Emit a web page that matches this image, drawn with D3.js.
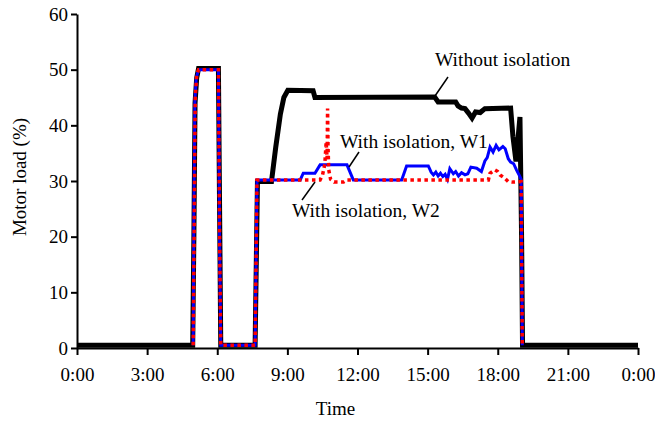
<!DOCTYPE html>
<html>
<head>
<meta charset="utf-8">
<script src="https://cdn.jsdelivr.net/npm/d3@7"></script>
<style>
  body { margin: 0; background: #fff; }
  svg text { font-family: "Liberation Serif", "Times New Roman", serif; fill: #000; }
  .axis path, .axis line { stroke: #000; stroke-width: 2; }
</style>
</head>
<body>
<div id="chart"></div>
<script>
// Time in hours, load in percent
const xTicks = [0, 3, 6, 9, 12, 15, 18, 21, 24];
const xTickLabels = ["0:00", "3:00", "6:00", "9:00", "12:00", "15:00", "18:00", "21:00", "0:00"];
const yTicks = [0, 10, 20, 30, 40, 50, 60];

const withoutIsolation = [
    [0, 0.5], [4.95, 0.5], [5.0, 20], [5.05, 44], [5.12, 48.5], [5.2, 50.2], [6.05, 50.2],
    [6.1, 25], [6.15, 0.5], [7.62, 0.5], [7.72, 29.9], [8.32, 29.9], [8.5, 36], [8.7, 42],
    [8.85, 45], [9.02, 46.3], [10.1, 46.2], [10.18, 45], [15.3, 45.1], [15.45, 44.2],
    [16.2, 44.2], [16.3, 43.5], [16.45, 43.1], [16.6, 43], [16.75, 42.2], [16.9, 41.3],
    [17.05, 42.4], [17.25, 42.3], [17.45, 43.0], [18.55, 43.1], [18.65, 38], [18.78, 33.5],
    [18.95, 41.5], [19.02, 20], [19.06, 0.5], [24, 0.5]
];

const withIsolationW1 = [
    [4.97, 0.5], [5.0, 25], [5.04, 44], [5.1, 48.5], [5.2, 50], [6.05, 50],
    [6.1, 20], [6.15, 0.5], [7.62, 0.5], [7.7, 30.2], [9.55, 30.2], [9.68, 31.4], [10.18, 31.4],
    [10.4, 32.9], [11.55, 32.9], [11.82, 30.2], [13.89, 30.2], [14.1, 32.7], [15.03, 32.7],
    [15.15, 31.6], [15.25, 31.1], [15.35, 31.6], [15.45, 30.9], [15.55, 31.4], [15.65, 30.8],
    [15.75, 31.2], [15.85, 30.3], [15.95, 32.2], [16.1, 31.3], [16.2, 31.7], [16.32, 30.9],
    [16.45, 31.5], [16.6, 31.1], [16.72, 31.3], [16.85, 32.5], [17.1, 32.3], [17.3, 31.7],
    [17.45, 33.6], [17.55, 34.2], [17.67, 36.1], [17.8, 35.2], [17.93, 36.4], [18.05, 35.6],
    [18.22, 36.2], [18.32, 35.8], [18.45, 34], [18.55, 33.4], [18.68, 33.1], [18.8, 32],
    [18.95, 30.8], [19.0, 30.3], [19.05, 0.5]
];

const withIsolationW2 = [
    [4.97, 0.5], [5.02, 25], [5.06, 45], [5.12, 49], [5.2, 50], [6.05, 50],
    [6.1, 20], [6.15, 0.5], [7.62, 0.5], [7.7, 30.2], [10.4, 30.2], [10.5, 31], [10.6, 33],
    [10.66, 37], [10.7, 34], [10.72, 43], [10.74, 36], [10.77, 32], [10.85, 30.3], [11.0, 29.8],
    [11.4, 29.8], [11.55, 30.2], [17.6, 30.2], [17.67, 31.4], [17.88, 32], [18.0, 31.7],
    [18.1, 31.1], [18.3, 30.5], [18.45, 29.9], [18.65, 29.8], [19.0, 29.9], [19.05, 0.5]
];

const width = 655, height = 421;
const margin = { top: 14, right: 17, bottom: 73, left: 77 };

const svg = d3.select("#chart").append("svg")
    .attr("width", width)
    .attr("height", height);

const x = d3.scaleLinear().domain([0, 24]).range([margin.left, width - margin.right]);
const y = d3.scaleLinear().domain([0, 60]).range([height - margin.bottom, margin.top]);

// axes
svg.append("g")
    .attr("class", "axis")
    .attr("transform", `translate(0,${height - margin.bottom})`)
    .call(d3.axisBottom(x).tickValues(xTicks).tickSize(7).tickSizeOuter(0).tickPadding(13)
        .tickFormat((d, i) => xTickLabels[i]));

svg.append("g")
    .attr("class", "axis")
    .attr("transform", `translate(${margin.left},0)`)
    .call(d3.axisLeft(y).tickValues(yTicks).tickSize(6).tickSizeOuter(0).tickPadding(3));

svg.selectAll(".axis text")
    .style("font-size", "19px")
    .style("font-family", "Liberation Serif");

// lines
const line = d3.line().x(d => x(d[0])).y(d => y(d[1]));

svg.append("path").datum(withoutIsolation)
    .attr("d", line).attr("fill", "none")
    .attr("stroke", "#000").attr("stroke-width", 5);

svg.append("path").datum(withIsolationW1)
    .attr("d", line).attr("fill", "none")
    .attr("stroke", "#0000ff").attr("stroke-width", 3);

svg.append("path").datum(withIsolationW2)
    .attr("d", line).attr("fill", "none")
    .attr("stroke", "#ff0000").attr("stroke-width", 3.5)
    .attr("stroke-dasharray", "3.5,3.5");

// annotations
const notes = [
    { text: "Without isolation", tx: 435, ty: 66, l: [448, 77, 435, 96] },
    { text: "With isolation, W1", tx: 340, ty: 148, l: [359, 152, 349, 167] },
    { text: "With isolation, W2", tx: 292, ty: 217, l: [302, 200, 315, 182] }
];
notes.forEach(n => {
    svg.append("line")
        .attr("x1", n.l[0]).attr("y1", n.l[1])
        .attr("x2", n.l[2]).attr("y2", n.l[3])
        .attr("stroke", "#000").attr("stroke-width", 1.5);
    svg.append("text")
        .attr("x", n.tx).attr("y", n.ty)
        .style("font-size", "19.5px")
        .text(n.text);
});

// axis titles
svg.append("text")
    .attr("x", (margin.left + width - margin.right) / 2 - 22)
    .attr("y", 415)
    .attr("text-anchor", "middle")
    .style("font-size", "19px")
    .text("Time");

svg.append("text")
    .attr("transform", `translate(26,${(y(0) + y(60)) / 2 - 4}) rotate(-90)`)
    .attr("text-anchor", "middle")
    .style("font-size", "19px")
    .text("Motor load (%)");
</script>
</body>
</html>
